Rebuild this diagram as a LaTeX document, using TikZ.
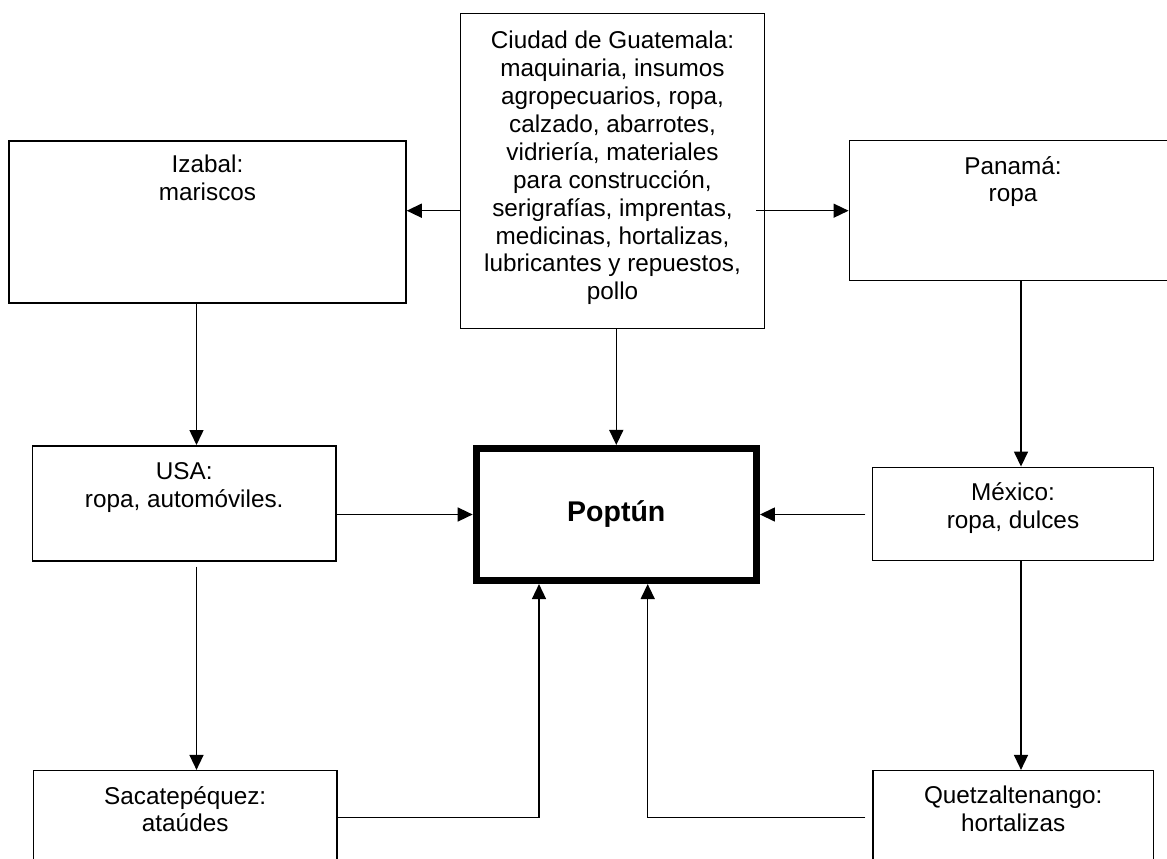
\documentclass[tikz,border=0pt]{standalone}
\usepackage{fontspec}
\setmainfont{Liberation Sans}
\usetikzlibrary{arrows.meta,calc}
\begin{document}
\begin{tikzpicture}[x=1pt,y=-1pt,
  box/.style={draw,line width=1.5pt,inner sep=0pt,rectangle},
  txt/.style={anchor=north,inner sep=0pt,align=center,font={\fontsize{24.3}{27.9}\selectfont}},
  arr/.style={line width=1.5pt,-{Triangle[length=15pt,width=14pt]}},
  plain/.style={line width=1.5pt}]
\fill[white] (0,0) rectangle (1167,859);
\clip (0,0) rectangle (1167,859);
% boxes
\node[box,minimum width=303.6pt,minimum height=315pt] (ciudad) at (612.5,170.8) {};
\node[box,minimum width=397pt,minimum height=162.3pt] (izabal) at (207.5,221.9) {};
\node[box,minimum width=327.4pt,minimum height=140pt] (panama) at (1013,210.7) {};
\node[box,minimum width=303.7pt,minimum height=115.3pt] (usa) at (184.2,503.4) {};
\node[box,minimum width=281pt,minimum height=93.4pt] (mexico) at (1013,514) {};
\node[box,minimum width=303.7pt,minimum height=115.3pt] (sac) at (185.2,828.3) {};
\node[box,minimum width=280.3pt,minimum height=115.3pt] (quetz) at (1013.2,828.3) {};
\node[draw,line width=7.3pt,inner sep=0pt,minimum width=280pt,minimum height=131.8pt,
      font={\fontsize{28.5}{32}\selectfont\bfseries}] (poptun) at (616.3,514.5) {Poptún};
% texts
\node[txt] (ciudadT) at ([yshift=-18.4pt]ciudad.north) {Ciudad de Guatemala:\\maquinaria, insumos\\agropecuarios, ropa,\\calzado, abarrotes,\\vidriería, materiales\\para construcción,\\serigrafías, imprentas,\\medicinas, hortalizas,\\lubricantes y repuestos,\\pollo};
\node[txt] (izabalT) at ([yshift=-15pt]izabal.north) {Izabal:\\mariscos};
\node[txt] (panamaT) at ([yshift=-16pt]panama.north) {Panamá:\\ropa};
\node[txt] (usaT) at ([yshift=-17.6pt]usa.north) {USA:\\ropa, automóviles.};
\node[txt] (mexicoT) at ([yshift=-16pt]mexico.north) {México:\\ropa, dulces};
\node[txt] (sacT) at ([yshift=-16pt]sac.north) {Sacatepéquez:\\ataúdes};
\node[txt] (quetzT) at ([yshift=-16pt]quetz.north) {Quetzaltenango:\\hortalizas};
% helper coordinates
\coordinate (colL) at (196.5,0);
\coordinate (colR) at (1021,0);
\coordinate (colP1) at (539,0);
\coordinate (colP2) at (647.7,0);
\coordinate (rowB) at (0,817.7);
% connectors
\draw[arr] (ciudad.west |- panama.west) -- (izabal.east |- panama.west);
\draw[arr] ([xshift=-9pt]ciudad.east |- panama.west) -- (panama.west);
\draw[arr] (ciudad.south -| poptun.north) -- (poptun.north);
\draw[arr] (izabal.south -| colL) -- (usa.north -| colL);
\draw[arr] (usa.east |- poptun.west) -- (poptun.west);
\draw[arr] ([yshift=-4.7pt]usa.south -| colL) -- (sac.north -| colL);
\draw[arr] (sac.east |- rowB) -| (poptun.south -| colP1);
\draw[arr] ([xshift=-7pt]quetz.west |- rowB) -| (poptun.south -| colP2);
\draw[arr] (panama.south -| colR) -- (mexico.north -| colR);
\draw[arr] ([xshift=-6.5pt]mexico.west |- poptun.east) -- (poptun.east);
\draw[arr] (mexico.south -| colR) -- (quetz.north -| colR);
\end{tikzpicture}
\end{document}
